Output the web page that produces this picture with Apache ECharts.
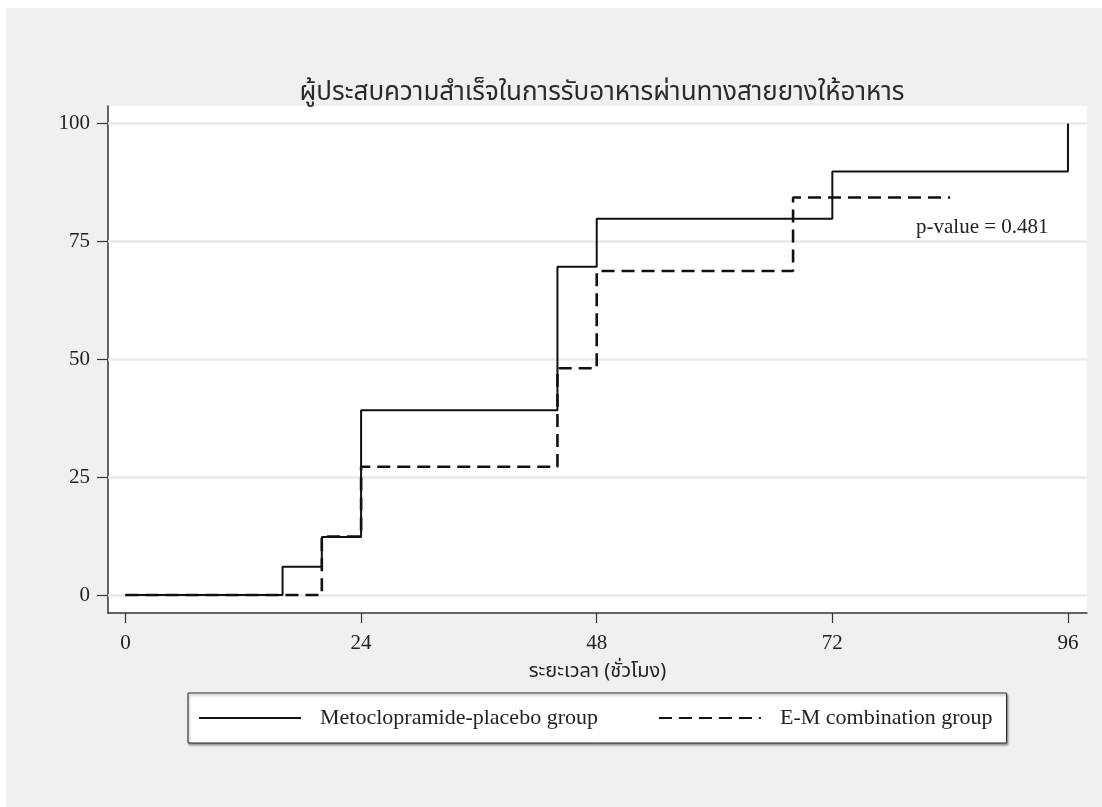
<!DOCTYPE html>
<html>
<head>
<meta charset="utf-8">
<script src="https://cdn.jsdelivr.net/npm/echarts@6/dist/echarts.min.js"></script>
<style>
  html, body { margin: 0; padding: 0; background: #fff; }
  #main { width: 1102px; height: 807px; }
</style>
</head>
<body>
<div id="main"></div>
<script>
// hours where each curve steps, and the cumulative % reached at that hour
var placeboHours = [0, 16, 20, 24, 44, 48, 72, 96];
var placeboPct   = [0, 6.0, 12.3, 39.2, 69.6, 79.8, 89.8, 100];
var comboHours   = [0, 20, 24, 44, 48, 68, 84];
var comboPct     = [0, 12.4, 27.2, 48.1, 68.7, 84.3, 84.3];

var xTicks = [0, 24, 48, 72, 96];
var yTicks = [0, 25, 50, 75, 100];

var titleText = 'ผู้ประสบความสำเร็จในการรับอาหารผ่านทางสายยางให้อาหาร';
var xName = 'ระยะเวลา (ชั่วโมง)';
var placeboName = 'Metoclopramide-placebo group';
var comboName = 'E-M combination group';
var pText = 'p-value = 0.481';

function pairs(xs, ys) {
  return xs.map(function (x, i) { return [x, ys[i]]; });
}

var serif = "'Liberation Serif', 'Times New Roman', serif";
var thai = "'Noto Sans Thai', 'Noto Sans Thai Looped', 'Loma', 'Garuda', 'Tlwg Typist', 'Noto Sans', sans-serif";

var myChart = echarts.init(document.getElementById('main'));
var option = {
  backgroundColor: '#ffffff',
  animation: false,
  graphic: [
    { type: 'rect', z: -10, shape: { x: 6, y: 8, width: 1096, height: 799 }, style: { fill: '#f0f0f0' } },
    { type: 'text', left: 916, top: 217, z: 10,
      style: { text: pText, font: '21px ' + serif, fill: '#222' } }
  ],
  title: {
    text: titleText,
    left: 597,
    top: 77,
    textAlign: 'center',
    textStyle: { fontFamily: thai, fontSize: 26, fontWeight: 'normal', color: '#2a2a2a' }
  },
  grid: {
    left: 108, right: 15, top: 106, bottom: 194,
    show: true, backgroundColor: '#ffffff', borderWidth: 0
  },
  legend: {
    data: [placeboName, comboName],
    left: 188, top: 693,
    orient: 'horizontal',
    padding: [14, 14, 14, 10],
    itemWidth: 102, itemHeight: 22, itemGap: 60,
    backgroundColor: '#ffffff',
    borderColor: '#222', borderWidth: 1, borderRadius: 0,
    shadowColor: 'rgba(0,0,0,0.35)', shadowBlur: 2, shadowOffsetX: 1, shadowOffsetY: 2,
    itemStyle: { opacity: 0 },
    textStyle: { fontFamily: serif, fontSize: 22, color: '#222', padding: [0, 0, 0, 14] }
  },
  xAxis: {
    type: 'value',
    min: -1.78, max: 97.94,
    name: xName,
    nameLocation: 'middle',
    nameGap: 50,
    nameTextStyle: { fontFamily: thai, fontSize: 20, color: '#222' },
    axisLine: { show: true, onZero: false, lineStyle: { color: '#333', width: 1.5 } },
    axisTick: { show: true, length: 10, customValues: xTicks, lineStyle: { color: '#333', width: 1.2 } },
    axisLabel: { customValues: xTicks, margin: 20, fontFamily: serif, fontSize: 21, color: '#222' },
    splitLine: { show: false }
  },
  yAxis: {
    type: 'value',
    min: -3.82, max: 103.71,
    axisLine: { show: true, onZero: false, lineStyle: { color: '#333', width: 1.5 } },
    axisTick: { show: true, length: 11, customValues: yTicks, lineStyle: { color: '#333', width: 1.2 } },
    axisLabel: { customValues: yTicks, margin: 18, fontFamily: serif, fontSize: 21, color: '#222' },
    splitLine: { show: false }
  },
  series: [
    {
      name: comboName,
      type: 'line',
      step: 'end',
      symbol: 'none',
      z: 2,
      data: pairs(comboHours, comboPct),
      lineStyle: { color: '#111', width: 2.6, type: [13, 7] },
      itemStyle: { color: '#111' },
      markLine: {
        silent: true,
        z: 1,
        symbol: 'none',
        label: { show: false },
        lineStyle: { color: '#e8e8e8', width: 2.5, type: 'solid' },
        data: yTicks.map(function (v) { return { yAxis: v }; })
      }
    },
    {
      name: placeboName,
      type: 'line',
      step: 'end',
      symbol: 'none',
      z: 3,
      data: pairs(placeboHours, placeboPct),
      lineStyle: { color: '#111', width: 2, type: 'solid' },
      itemStyle: { color: '#111' }
    }
  ]
};
option && myChart.setOption(option);
</script>
</body>
</html>
